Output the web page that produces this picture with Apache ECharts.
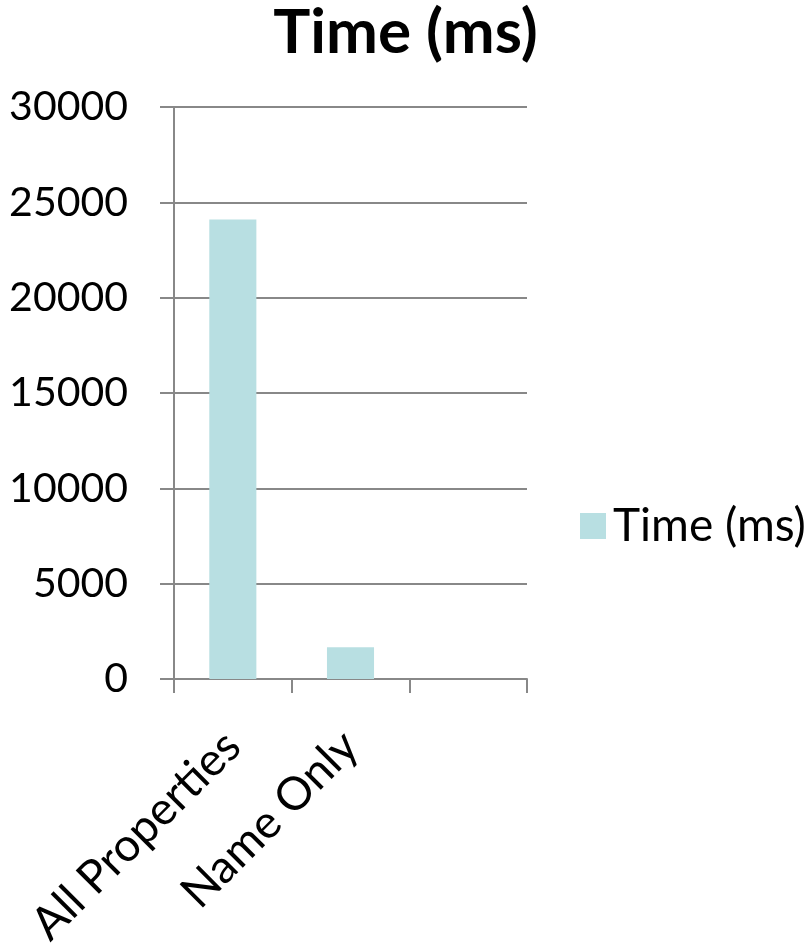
<!DOCTYPE html>
<html><head><meta charset="utf-8">
<script src="https://cdn.jsdelivr.net/npm/echarts@6/dist/echarts.min.js"></script>
<style>html,body{margin:0;padding:0;background:#fff}#c{width:811px;height:946px}</style>
</head><body><div id="c"></div>
<script>
const categories = ['All Properties', 'Name Only', ''];
const timeMs = [24100, 1670, null];
const seriesName = 'Time (ms)';
const titleText = 'Time (ms)';

const FONT = 'Lato, "Open Sans", sans-serif';
const chart = echarts.init(document.getElementById('c'));
chart.setOption({
  animation: false,
  title: {
    text: titleText, left: 'center', top: -3,
    textStyle: { fontFamily: FONT, fontWeight: 'bold', fontSize: 62, color: '#000' }
  },
  legend: {
    data: [seriesName], orient: 'vertical', left: 575, top: 498,
    itemWidth: 26, itemHeight: 26, itemGap: 10,
    icon: 'rect',
    textStyle: { fontFamily: FONT, fontSize: 46, color: '#000', padding: [0,0,0,2] }
  },
  grid: { left: 174, right: 284, top: 107, bottom: 267, containLabel: false, outerBoundsMode: 'none' },
  xAxis: {
    type: 'category', data: categories,
    axisLine: { lineStyle: { color: '#888', width: 2 } },
    axisTick: { show: true, length: 14, lineStyle: { color: '#888', width: 2 } },
    axisLabel: { rotate: 45, interval: 0, margin: 60, fontFamily: FONT, fontSize: 46, color: '#000' }
  },
  yAxis: {
    type: 'value', min: 0, max: 30000, interval: 5000,
    axisLine: { show: true, lineStyle: { color: '#888', width: 2 } },
    axisTick: { show: true, length: 14, lineStyle: { color: '#888', width: 2 } },
    splitLine: { lineStyle: { color: '#888', width: 2 } },
    axisLabel: { margin: 46, fontFamily: FONT, fontSize: 41, color: '#000', formatter: v => String(v) }
  },
  series: [{
    name: seriesName, type: 'bar', data: timeMs,
    barCategoryGap: '60%',
    itemStyle: { color: '#B8DFE2' }
  }]
});
</script></body></html>
